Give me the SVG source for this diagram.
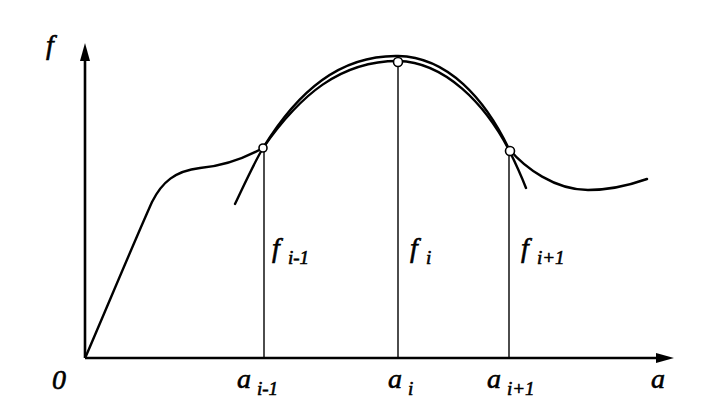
<svg xmlns="http://www.w3.org/2000/svg" width="702" height="414" viewBox="0 0 702 414">
  <defs>
    <style>
      .ax { stroke: #000; stroke-width: 2.6; fill: none; }
      .crv { stroke: #000; stroke-width: 2.4; fill: none; stroke-linecap: round; stroke-linejoin: round; }
      .ord { stroke: #000; stroke-width: 1.4; fill: none; }
      .pt { fill: #fff; stroke: #000; stroke-width: 1.6; }
      .lab { font-family: "Liberation Serif", "DejaVu Serif", serif; font-style: italic; font-size: 28px; fill: #000; stroke: #000; stroke-width: 0.6; }
      .sub { font-size: 19px; }
    </style>
  </defs>
  <rect width="702" height="414" fill="#fff"/>

  <g id="axes">
    <line class="ax" x1="85" y1="358" x2="85" y2="58"/>
    <polygon points="85,43 80,61 90,61" fill="#000"/>
    <line class="ax" x1="85" y1="358" x2="658" y2="358"/>
    <polygon points="674,358 656,353 656,363" fill="#000"/>
  </g>

  <g id="ordinates">
    <line class="ord" x1="264" y1="150" x2="264" y2="358"/>
    <line class="ord" x1="398" y1="65" x2="398" y2="358"/>
    <line class="ord" x1="509" y1="153" x2="509" y2="358"/>
  </g>

  <g id="curves">
    <path id="function" class="crv" d="M86,356 C110,300 135,240 152,202 C162,182 175,171 200,168 C225,166 245,158 263,148 C298,91 340,55 398,56 C448,57 485,99 509,149 C525,168 555,190 588,190 C612,190 630,185 647,179"/>
    <path id="parabola" class="crv" d="M235,204 C245,183 253,165 263,148 C300,95 340,61 398,61 C445,62 485,104 509,150 C515,162 521,175 526,188"/>
  </g>

  <g id="points">
    <circle class="pt" cx="263" cy="148" r="4"/>
    <circle class="pt" cx="398" cy="62" r="4.5"/>
    <circle class="pt" cx="510" cy="151" r="4.5"/>
  </g>

  <g id="labels">
    <text class="lab" x="46" y="54">f</text>
    <text class="lab" x="52" y="389">0</text>
    <text class="lab" x="651" y="388">a</text>
    <text class="lab" x="272" y="257">f<tspan class="sub" x="288" y="264">i-1</tspan></text>
    <text class="lab" x="410" y="257">f<tspan class="sub" x="426" y="264">i</tspan></text>
    <text class="lab" x="521" y="257">f<tspan class="sub" x="537" y="264">i+1</tspan></text>
    <text class="lab" x="237" y="388">a<tspan class="sub" x="257" y="395">i-1</tspan></text>
    <text class="lab" x="388" y="388">a<tspan class="sub" x="408" y="395">i</tspan></text>
    <text class="lab" x="487" y="388">a<tspan class="sub" x="507" y="395">i+1</tspan></text>
  </g>
</svg>
